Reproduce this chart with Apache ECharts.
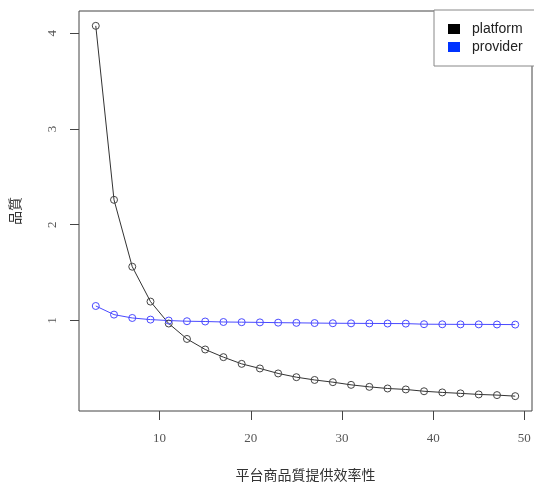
<!DOCTYPE html>
<html lang="zh-Hant" style="height: 100%">

<head>
  <meta charset="utf-8" />
</head>

<body style="height: 100%; margin: 0">
  <div id="container" style="height: 489px; width: 534px;"></div>

  <script type="text/javascript" src="https://cdn.jsdelivr.net/npm/echarts@6/dist/echarts.min.js"></script>

  <script type="text/javascript">
    // 平台商品質提供效率性
    var efficiency = [3, 5, 7, 9, 11, 13, 15, 17, 19, 21, 23, 25, 27, 29, 31, 33, 35, 37, 39, 41, 43, 45, 47, 49];
    var platform = [4.076, 2.26, 1.562, 1.198, 0.969, 0.808, 0.698, 0.618, 0.548, 0.5, 0.448, 0.409,
      0.38, 0.357, 0.329, 0.308, 0.291, 0.281, 0.262, 0.25, 0.24, 0.229, 0.222, 0.211];
    var provider = [1.152, 1.062, 1.027, 1.01, 1.0, 0.993, 0.99, 0.985, 0.983, 0.981, 0.978, 0.976,
      0.974, 0.972, 0.971, 0.97, 0.969, 0.968, 0.962, 0.961, 0.96, 0.96, 0.959, 0.958];
    var xTicks = [10, 20, 30, 40, 50];
    var yTicks = [1, 2, 3, 4];

    function pairs(xs, ys) {
      return xs.map(function (x, i) { return [x, ys[i]]; });
    }

    var dom = document.getElementById("container");
    var myChart = echarts.init(dom, null, { renderer: "canvas" });

    var tickFont = { fontFamily: "'Liberation Serif', serif", fontSize: 13, color: '#555' };
    var titleFont = { fontFamily: "'Noto Sans CJK TC', sans-serif", fontSize: 14, color: '#333' };

    var option = {
      animation: false,
      backgroundColor: '#fff',
      grid: {
        show: true,
        left: 79, top: 11, right: 2, bottom: 78,
        borderColor: '#444', borderWidth: 1,
        containLabel: false,
        outerBoundsMode: 'none'
      },
      legend: {
        orient: 'vertical',
        left: 434, top: 10,
        padding: [12, 30, 12, 14],
        itemWidth: 12, itemHeight: 10,
        itemGap: 4,
        icon: 'rect',
        borderColor: '#888', borderWidth: 1,
        backgroundColor: '#fff',
        textStyle: { fontFamily: "'Liberation Sans', Arial, sans-serif", fontSize: 14, color: '#222', padding: [0, 0, 0, 7] },
        data: [
          { name: 'platform', itemStyle: { color: '#000', borderWidth: 0 } },
          { name: 'provider', itemStyle: { color: '#0033ff', borderWidth: 0 } }
        ]
      },
      xAxis: {
        type: 'value',
        min: 1.16, max: 50.84,
        name: '平台商品質提供效率性',
        nameLocation: 'middle',
        nameGap: 57,
        nameTextStyle: titleFont,
        splitLine: { show: false },
        axisLine: { show: false },
        axisTick: { show: true, length: 9, lineStyle: { color: '#444' }, customValues: xTicks },
        axisLabel: Object.assign({ margin: 21, customValues: xTicks, showMinLabel: true, showMaxLabel: true }, tickFont)
      },
      yAxis: {
        type: 'value',
        min: 0.056, max: 4.231,
        name: '品質',
        nameLocation: 'middle',
        nameGap: 57,
        nameTextStyle: titleFont,
        splitLine: { show: false },
        axisLine: { show: false },
        axisTick: { show: true, length: 9, lineStyle: { color: '#444' }, customValues: yTicks },
        axisLabel: Object.assign({ margin: 20, rotate: 90, customValues: yTicks }, tickFont)
      },
      series: [
        {
          name: 'platform',
          type: 'line',
          data: pairs(efficiency, platform),
          symbol: 'circle',
          symbolSize: 7,
          lineStyle: { width: 1, color: '#333' },
          itemStyle: { color: 'rgba(255,255,255,0)', borderColor: '#444', borderWidth: 1 }
        },
        {
          name: 'provider',
          type: 'line',
          data: pairs(efficiency, provider),
          symbol: 'circle',
          symbolSize: 7,
          lineStyle: { width: 1, color: '#4a4aff' },
          itemStyle: { color: 'rgba(255,255,255,0)', borderColor: '#4a4aff', borderWidth: 1 }
        }
      ]
    };

    myChart.setOption(option);
    window.addEventListener("resize", myChart.resize);
  </script>
</body>

</html>
